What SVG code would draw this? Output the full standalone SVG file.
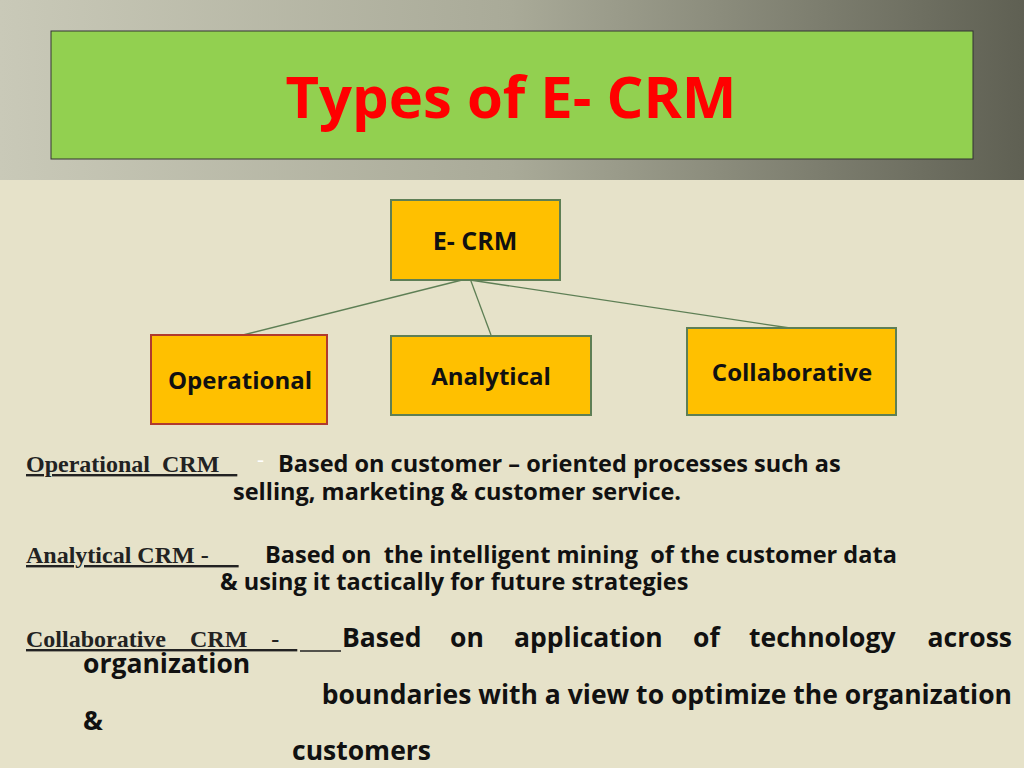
<svg xmlns="http://www.w3.org/2000/svg" width="1024" height="768" viewBox="0 0 1024 768">
<defs>
<linearGradient id="top" x1="0" y1="0" x2="1" y2="0">
<stop offset="0" stop-color="#c9c9b8"/><stop offset="0.5" stop-color="#a9aa98"/><stop offset="1" stop-color="#5f6053"/>
</linearGradient>
<style>
.n{fill:#FFC000;stroke:#5E7F55;stroke-width:2}
.t{font-family:"Open Sans","Noto Sans",sans-serif;font-weight:bold;fill:#111}
.s{font-family:"Liberation Serif",serif;font-weight:bold;font-size:24px;fill:#222;text-decoration:underline}
.b{font-family:"Open Sans","Noto Sans",sans-serif;font-weight:bold;font-size:23.5px;fill:#111}
.c{font-family:"Open Sans","Noto Sans",sans-serif;font-weight:bold;font-size:26.5px;fill:#111}
</style>
</defs>
<rect width="1024" height="768" fill="#E6E2C9"/>
<rect width="1024" height="180" fill="url(#top)"/>
<rect x="51" y="31" width="922" height="128" fill="#92D050" stroke="#333" stroke-width="1"/>
<text x="511" y="118" text-anchor="middle" style="font-family:'Open Sans','Noto Sans',sans-serif;font-weight:bold;font-size:58px;fill:#FF0000">Types of E- CRM</text>
<g id="connectors" stroke="#5E7F55" stroke-width="1.3" fill="none">
<line x1="465" y1="265" x2="491" y2="335"/>
<line x1="462" y1="280" x2="243" y2="335"/>
<line x1="470" y1="280" x2="790" y2="328"/>
</g>
<g id="ecrm"><rect class="n" x="391" y="200" width="169" height="80"/><text class="t" x="475" y="250" text-anchor="middle" font-size="25">E- CRM</text></g>
<g id="operational"><rect class="n" x="151" y="335" width="176" height="89" style="stroke:#B03A2E"/><text class="t" x="240" y="389" text-anchor="middle" font-size="24">Operational</text></g>
<g id="analytical"><rect class="n" x="391" y="336" width="200" height="79"/><text class="t" x="491" y="385" text-anchor="middle" font-size="24">Analytical</text></g>
<g id="collaborative"><rect class="n" x="687" y="328" width="209" height="87"/><text class="t" x="792" y="381" text-anchor="middle" font-size="24">Collaborative</text></g>
<text class="s" x="26" y="472" xml:space="preserve">Operational  CRM   </text>
<text x="257" y="467" style="font-family:'Open Sans',sans-serif;font-size:22px;fill:#fff">-</text>
<text class="b" x="278" y="472">Based on customer – oriented processes such as</text>
<text class="b" x="233" y="500">selling, marketing &amp; customer service.</text>
<text class="s" x="26" y="563" xml:space="preserve">Analytical CRM -     </text>
<text class="b" x="265" y="563" xml:space="preserve">Based on  the intelligent mining  of the customer data</text>
<text class="b" x="220" y="590">&amp; using it tactically for future strategies</text>
<text class="s" x="26" y="647" xml:space="preserve">Collaborative    CRM    -   </text>
<line x1="300" y1="651" x2="341" y2="651" stroke="#222" stroke-width="1.5"/>
<text class="c" x="342" y="647">Based</text>
<text class="c" x="450" y="647">on</text>
<text class="c" x="514" y="647">application</text>
<text class="c" x="693" y="647">of</text>
<text class="c" x="749" y="647">technology</text>
<text class="c" x="1012" y="647" text-anchor="end">across</text>
<text class="c" x="83" y="673">organization</text>
<text class="c" x="1012" y="704" text-anchor="end">boundaries with a view to optimize the organization</text>
<text class="c" x="83" y="730">&amp;</text>
<text class="c" x="292" y="760">customers</text>
</svg>
